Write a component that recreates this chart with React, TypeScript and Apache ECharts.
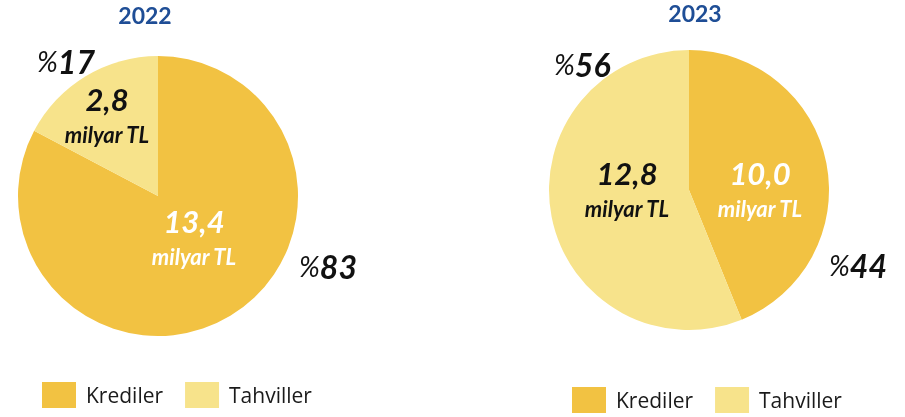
import React, { useEffect, useRef } from "react";
import * as echarts from "echarts";

const categories = ["Krediler", "Tahviller"];
const years = ["2022", "2023"];
const values2022 = [13.4, 2.8];
const values2023 = [10.0, 12.8];
const shares2022 = [83, 17];
const shares2023 = [44, 56];
const unit = "milyar TL";

const COLORS = ["#F2C242", "#F7E38B"];
const fmt = (v: number) => v.toFixed(1).replace(".", ",");

export default function App() {
  const ref = useRef<HTMLDivElement>(null);
  useEffect(() => {
    const chart = echarts.init(ref.current!, null, { renderer: "svg" });
    const font = "Lato, 'Open Sans', sans-serif";
    const pct = (x: number, y: number, v: number) => ({
      type: "text",
      x,
      y,
      z: 100,
      style: {
        text: "{p|%}{n|" + v + "}",
        rich: {
          p: { fontFamily: font, fontStyle: "italic", fontWeight: "normal", fontSize: 28, fill: "#111" },
          n: { fontFamily: font, fontStyle: "italic", fontWeight: "bold", fontSize: 32, fill: "#111" },
        },
        verticalAlign: "middle",
      },
    });
    const txt = (x: number, y: number, s: string, size: number, color: string) => ({
      type: "text",
      x,
      y,
      z: 100,
      style: {
        text: s,
        fontFamily: font,
        fontStyle: "italic",
        fontWeight: "bold",
        fontSize: size,
        fill: color,
        align: "center",
        verticalAlign: "middle",
      },
    });
    const val = (x: number, y: number, v: number, color: string) => [
      txt(x, y, fmt(v), 31, color),
      txt(x, y + 35, unit, 22, color),
    ];
    const pieBase = {
      type: "pie",
      radius: 140,
      startAngle: 90,
      clockwise: true,
      label: { show: false },
      labelLine: { show: false },
      emphasis: { disabled: true },
      silent: true,
    };
    const legendBase = {
      data: categories,
      icon: "rect",
      itemWidth: 34,
      itemHeight: 26,
      itemGap: 22,
      padding: 0,
      selectedMode: false,
      textStyle: { fontFamily: "'Open Sans', sans-serif", fontSize: 21, color: "#1a1a1a", padding: [0, 0, 0, 5] },
    };
    chart.setOption({
      animation: false,
      color: COLORS,
      title: [
        {
          text: years[0],
          left: 145,
          top: 3,
          padding: 0,
          textAlign: "center",
          textStyle: { fontFamily: font, fontWeight: "bold", fontSize: 23, color: "#1F4E96" },
        },
        {
          text: years[1],
          left: 695,
          top: 1,
          padding: 0,
          textAlign: "center",
          textStyle: { fontFamily: font, fontWeight: "bold", fontSize: 23, color: "#1F4E96" },
        },
      ],
      legend: [
        { ...legendBase, left: 42, top: 382 },
        { ...legendBase, left: 572, top: 387 },
      ],
      series: [
        {
          ...pieBase,
          name: years[0],
          center: [158, 196],
          data: categories.map((c, i) => ({ name: c, value: values2022[i] })),
        },
        {
          ...pieBase,
          name: years[1],
          center: [689, 190],
          data: categories.map((c, i) => ({ name: c, value: values2023[i] })),
        },
      ],
      graphic: [
        pct(37, 61, shares2022[1]),
        pct(299, 266, shares2022[0]),
        pct(554, 64, shares2023[1]),
        pct(829, 265, shares2023[0]),
        ...val(107, 99, values2022[1], "#111"),
        ...val(194, 221, values2022[0], "#fff"),
        ...val(627, 173, values2023[1], "#111"),
        ...val(760, 173, values2023[0], "#fff"),
      ],
    });
    return () => chart.dispose();
  }, []);
  return <div ref={ref} style={{ position: "fixed", left: 0, top: 0, width: 905, height: 417 }} />;
}
